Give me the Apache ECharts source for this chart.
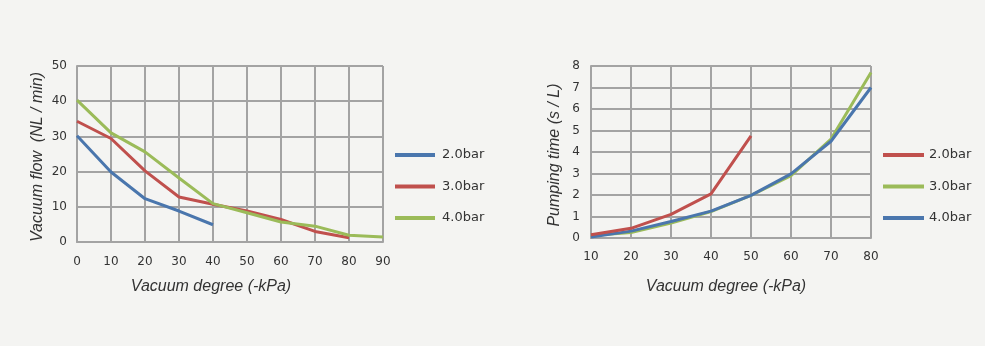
<!DOCTYPE html>
<html><head><meta charset="utf-8">
<script src="https://cdn.jsdelivr.net/npm/echarts@6/dist/echarts.min.js"></script>
<style>html,body{margin:0;padding:0;background:#f4f4f2}#c{width:985px;height:346px}</style>
</head><body><div id="c"></div>
<script>
// Left chart: vacuum flow vs vacuum degree
const xLeft = [0, 10, 20, 30, 40, 50, 60, 70, 80, 90];
const flow20 = [30.2, 19.9, 12.3, 8.8, 4.9];
const flow30 = [34.3, 29.4, 20.2, 12.8, 10.7, 8.8, 6.4, 3.0, 1.2];
const flow40 = [40.3, 31.0, 25.6, 18.2, 10.9, 8.3, 5.7, 4.5, 1.9, 1.4];
// Right chart: pumping time vs vacuum degree
const xRight = [10, 20, 30, 40, 50, 60, 70, 80];
const time20 = [0.15, 0.45, 1.1, 2.05, 4.75];
const time30 = [0.12, 0.25, 0.69, 1.23, 1.98, 2.9, 4.6, 7.7];
const time40 = [0.05, 0.32, 0.77, 1.25, 1.98, 2.98, 4.5, 7.0];
const legendNames = ['2.0bar', '3.0bar', '4.0bar'];

const blue = '#4a76ad', red = '#c0504d', green = '#9bbb59';
const gridCol = '#a3a3a3';
const pairs = (xs, ys) => ys.map((v, i) => [xs[i], v]);

const chart = echarts.init(document.getElementById('c'));
const axisLbl = {color: '#333', fontFamily: 'DejaVu Sans', fontSize: 12};
const split = {show: true, lineStyle: {color: gridCol, width: 2}};
const axLine = {show: true, lineStyle: {color: gridCol, width: 2}};
function mkSeries(name, x, y, color, xi, yi) {
  return {type: 'line', name: name, xAxisIndex: xi, yAxisIndex: yi, data: pairs(x, y),
    showSymbol: false, symbol: 'none', lineStyle: {color: color, width: 3}, itemStyle: {color: color}};
}
chart.setOption({
  backgroundColor: '#f4f4f2',
  animation: false,
  grid: [
    {left: 77, top: 66, width: 306, height: 176},
    {left: 591, top: 66, width: 280, height: 172}
  ],
  xAxis: [
    {type: 'value', gridIndex: 0, min: 0, max: 90, interval: 10, axisLine: axLine, axisTick: {show: false},
     splitLine: split, axisLabel: Object.assign({margin: 14}, axisLbl)},
    {type: 'value', gridIndex: 1, min: 10, max: 80, interval: 10, axisLine: axLine, axisTick: {show: false},
     splitLine: split, axisLabel: Object.assign({margin: 13}, axisLbl)}
  ],
  yAxis: [
    {type: 'value', gridIndex: 0, min: 0, max: 50, interval: 10, axisLine: axLine, axisTick: {show: false},
     splitLine: split, axisLabel: Object.assign({margin: 10}, axisLbl)},
    {type: 'value', gridIndex: 1, min: 0, max: 8, interval: 1, axisLine: axLine, axisTick: {show: false},
     splitLine: split, axisLabel: Object.assign({margin: 11}, axisLbl)}
  ],
  legend: [
    {orient: 'vertical', left: 390, top: 142, itemWidth: 40, itemHeight: 4, itemGap: 15.5, icon: 'rect',
     data: ['L' + legendNames[0], 'L' + legendNames[1], 'L' + legendNames[2]],
     formatter: n => n.slice(1), selectedMode: false,
     textStyle: {color: '#333', fontFamily: 'DejaVu Sans', fontSize: 13, lineHeight: 16, padding: [0, 0, 0, 2]}},
    {orient: 'vertical', left: 878, top: 142, itemWidth: 41, itemHeight: 4, itemGap: 15.5, icon: 'rect',
     data: ['R' + legendNames[0], 'R' + legendNames[1], 'R' + legendNames[2]],
     formatter: n => n.slice(1), selectedMode: false,
     textStyle: {color: '#333', fontFamily: 'DejaVu Sans', fontSize: 13, lineHeight: 16}}
  ],
  graphic: [
    {type: 'text', x: 38, y: 157, rotation: Math.PI / 2,
     style: {text: 'Vacuum flow  (NL / min)', font: 'italic 16px "Liberation Sans"', fill: '#333', align: 'center', verticalAlign: 'middle'}},
    {type: 'text', x: 211, y: 287,
     style: {text: 'Vacuum degree (-kPa)', font: 'italic 16px "Liberation Sans"', fill: '#333', align: 'center', verticalAlign: 'middle'}},
    {type: 'text', x: 555, y: 155, rotation: Math.PI / 2,
     style: {text: 'Pumping time (s / L)', font: 'italic 16px "Liberation Sans"', fill: '#333', align: 'center', verticalAlign: 'middle'}},
    {type: 'text', x: 726, y: 287,
     style: {text: 'Vacuum degree (-kPa)', font: 'italic 16px "Liberation Sans"', fill: '#333', align: 'center', verticalAlign: 'middle'}}
  ],
  series: [
    mkSeries('L' + legendNames[0], xLeft, flow20, blue, 0, 0),
    mkSeries('L' + legendNames[1], xLeft, flow30, red, 0, 0),
    mkSeries('L' + legendNames[2], xLeft, flow40, green, 0, 0),
    mkSeries('R' + legendNames[1], xRight, time30, green, 1, 1),
    mkSeries('R' + legendNames[2], xRight, time40, blue, 1, 1),
    mkSeries('R' + legendNames[0], xRight, time20, red, 1, 1)
  ]
});
</script></body></html>
